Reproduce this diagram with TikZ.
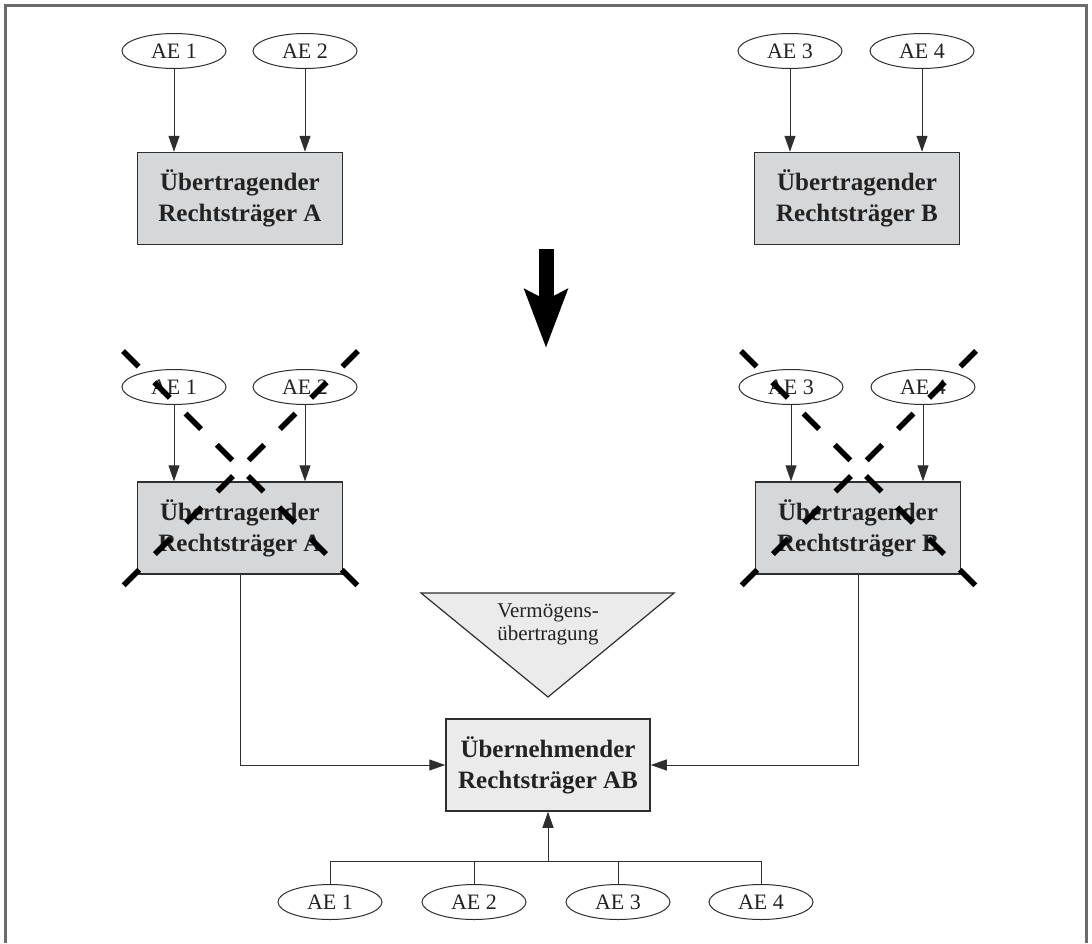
\documentclass[tikz,border=0pt]{standalone}
\usepackage{fontspec}
\setmainfont{Liberation Serif}
\usetikzlibrary{arrows.meta,shapes.geometric}
\definecolor{linec}{HTML}{2E2E2E}
\definecolor{txt}{HTML}{222222}
\definecolor{boxgray}{HTML}{D6D7D9}
\definecolor{lightgray}{HTML}{EBEBEB}
\definecolor{framec}{HTML}{6B6B6B}
\begin{document}
\begin{tikzpicture}[x=1pt,y=-1pt,
  ae/.style={ellipse, draw=linec, line width=1pt, fill=white,
    minimum width=104pt, minimum height=35pt, inner sep=0pt,
    font=\fontsize{22}{26}\selectfont, text=txt},
  rt/.style={rectangle, draw=linec, line width=1.5pt, fill=boxgray,
    minimum width=205pt, minimum height=92pt, inner sep=0pt, align=center,
    font=\fontsize{25}{31}\selectfont\bfseries, text=txt},
  arr/.style={draw=linec, line width=1pt, -{Triangle[length=16pt,width=11pt]}},
  conn/.style={draw=linec, line width=1pt},
  cross/.style={draw=black, line width=5.5pt, dash pattern=on 22pt off 22.2pt},
  bigarrow/.style={draw=black, line width=15pt,
    -{Stealth[length=58pt,width=42pt,inset=10pt]}}
]
\useasboundingbox (0,0) rectangle (1092,943);

% outer frame (open at the bottom)
\draw[framec, line width=2.2pt] (5.5,943) -- (5.5,5.5) -- (1086.5,5.5) -- (1086.5,943);

% ---------- before: two transferring entities ----------
\node[ae] (t1) at (174,51) {AE 1};
\node[ae] (t2) at (305,51) {AE 2};
\node[ae] (t3) at (790,51) {AE 3};
\node[ae] (t4) at (922,51) {AE 4};
\node[rt] (tA) at (240,198.5) {Übertragender\\Rechtsträger A};
\node[rt] (tB) at (857,198.5) {Übertragender\\Rechtsträger B};
\draw[arr] (t1.south) -- (t1.south |- tA.north);
\draw[arr] (t2.south) -- (t2.south |- tA.north);
\draw[arr] (t3.south) -- (t3.south |- tB.north);
\draw[arr] (t4.south) -- (t4.south |- tB.north);

% ---------- big transition arrow ----------
\coordinate (bigtop) at (546,249);
\coordinate (bigtip) at (546,348);
\draw[bigarrow] (bigtop) -- (bigtip);

% ---------- after: entities cease to exist ----------
\node[ae] (m1) at (174,387) {AE 1};
\node[ae] (m2) at (305,387) {AE 2};
\node[ae] (m3) at (791,387) {AE 3};
\node[ae] (m4) at (923,387) {AE 4};
\node[rt] (mA) at (240,528) {Übertragender\\Rechtsträger A};
\node[rt] (mB) at (858,528) {Übertragender\\Rechtsträger B};
\draw[arr] (m1.south) -- (m1.south |- mA.north);
\draw[arr] (m2.south) -- (m2.south |- mA.north);
\draw[arr] (m3.south) -- (m3.south |- mB.north);
\draw[arr] (m4.south) -- (m4.south |- mB.north);

% crossing-out marks
\coordinate (xa1) at (123,351); \coordinate (xa2) at (358,586);
\coordinate (xa3) at (358,351); \coordinate (xa4) at (123,586);
\coordinate (xb1) at (741,351); \coordinate (xb2) at (976,586);
\coordinate (xb3) at (976,351); \coordinate (xb4) at (741,586);
\draw[cross] (xa1) -- (xa2);
\draw[cross] (xa3) -- (xa4);
\draw[cross] (xb1) -- (xb2);
\draw[cross] (xb3) -- (xb4);

% ---------- asset transfer ----------
\coordinate (vl) at (421,593);
\coordinate (vr) at (674,593);
\coordinate (vb) at (548,697);
\filldraw[fill=lightgray, draw=linec, line width=1.2pt] (vl) -- (vr) -- (vb) -- cycle;
\node[align=center, text=txt, font=\fontsize{21}{23}\selectfont, inner sep=0pt]
  (vt) at (548,624) {Vermögens-\\übertragung};

% ---------- receiving entity ----------
\node[rt, fill=lightgray, minimum width=204pt] (ab) at (548,765) {Übernehmender\\Rechtsträger AB};
\draw[arr] (mA.south) |- (ab.west);
\draw[arr] (mB.south) |- (ab.east);

\node[ae] (b1) at (330,902) {AE 1};
\node[ae] (b2) at (474,902) {AE 2};
\node[ae] (b3) at (618,902) {AE 3};
\node[ae] (b4) at (761,902) {AE 4};
\coordinate (bus) at (ab.south |- 0,861);
\draw[conn] (b1.north) |- (bus) -| (b4.north);
\draw[conn] (b2.north) -- (b2.north |- bus);
\draw[conn] (b3.north) -- (b3.north |- bus);
\draw[arr] (bus) -- (ab.south);
\end{tikzpicture}
\end{document}
